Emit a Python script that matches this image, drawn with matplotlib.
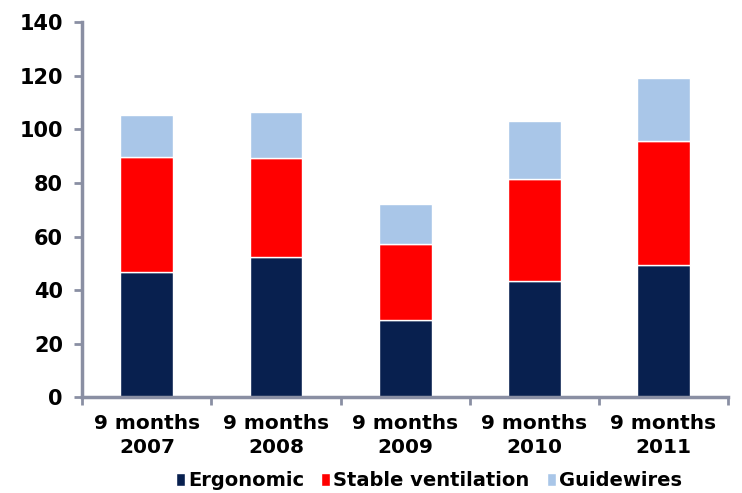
import numpy as np
import matplotlib.pyplot as plt

categories = ["9 months\n2007", "9 months\n2008", "9 months\n2009", "9 months\n2010", "9 months\n2011"]
ergonomic = [46.6, 52.5, 28.7, 43.3, 49.4]
stable_vent = [43.2, 36.9, 28.4, 38.0, 46.2]
guidewires = [15.5, 17.0, 15.0, 21.8, 23.5]

series = [("Ergonomic", ergonomic, "#08204F"),
          ("Stable ventilation", stable_vent, "#FF0000"),
          ("Guidewires", guidewires, "#A9C6E8")]

spine_col = "#8A8FA3"

fig = plt.figure(figsize=(7.42, 4.93), dpi=100)
ax = fig.add_axes([0.111, 0.194, 0.870, 0.761])

x = np.arange(len(categories))
bottom = np.zeros(len(categories))
for name, vals, col in series:
    ax.bar(x, vals, width=0.41, bottom=bottom, color=col, edgecolor="white",
           linewidth=1, label=name, zorder=2)
    bottom += np.array(vals)

ax.set_xlim(-0.5, len(categories) - 0.5)
ax.set_ylim(0, 140)
ax.set_yticks(np.arange(0, 141, 20))
ax.set_xticks(x)
ax.set_xticklabels(categories, fontsize=14.5, fontweight="bold", linespacing=1.3)
ax.tick_params(axis="x", length=0, pad=12)
ax.set_xticks(np.arange(-0.5, len(categories)), minor=True)
ax.tick_params(axis="x", which="minor", length=6, width=2, color=spine_col)
ax.tick_params(axis="y", length=6, width=2, color=spine_col, labelsize=15, pad=8)
for lab in ax.get_yticklabels():
    lab.set_fontweight("bold")

for s in ["top", "right"]:
    ax.spines[s].set_visible(False)
for s in ["left", "bottom"]:
    ax.spines[s].set_color(spine_col)
    ax.spines[s].set_linewidth(2.5)

leg = fig.legend(loc="lower center", bbox_to_anchor=(0.578, -0.03), ncol=3, frameon=False,
                 prop={"weight": "bold", "size": 14}, handlelength=0.45, handleheight=0.6,
                 handletextpad=0.15, columnspacing=0.9)

plt.savefig("out.png", dpi=100)
plt.close()
